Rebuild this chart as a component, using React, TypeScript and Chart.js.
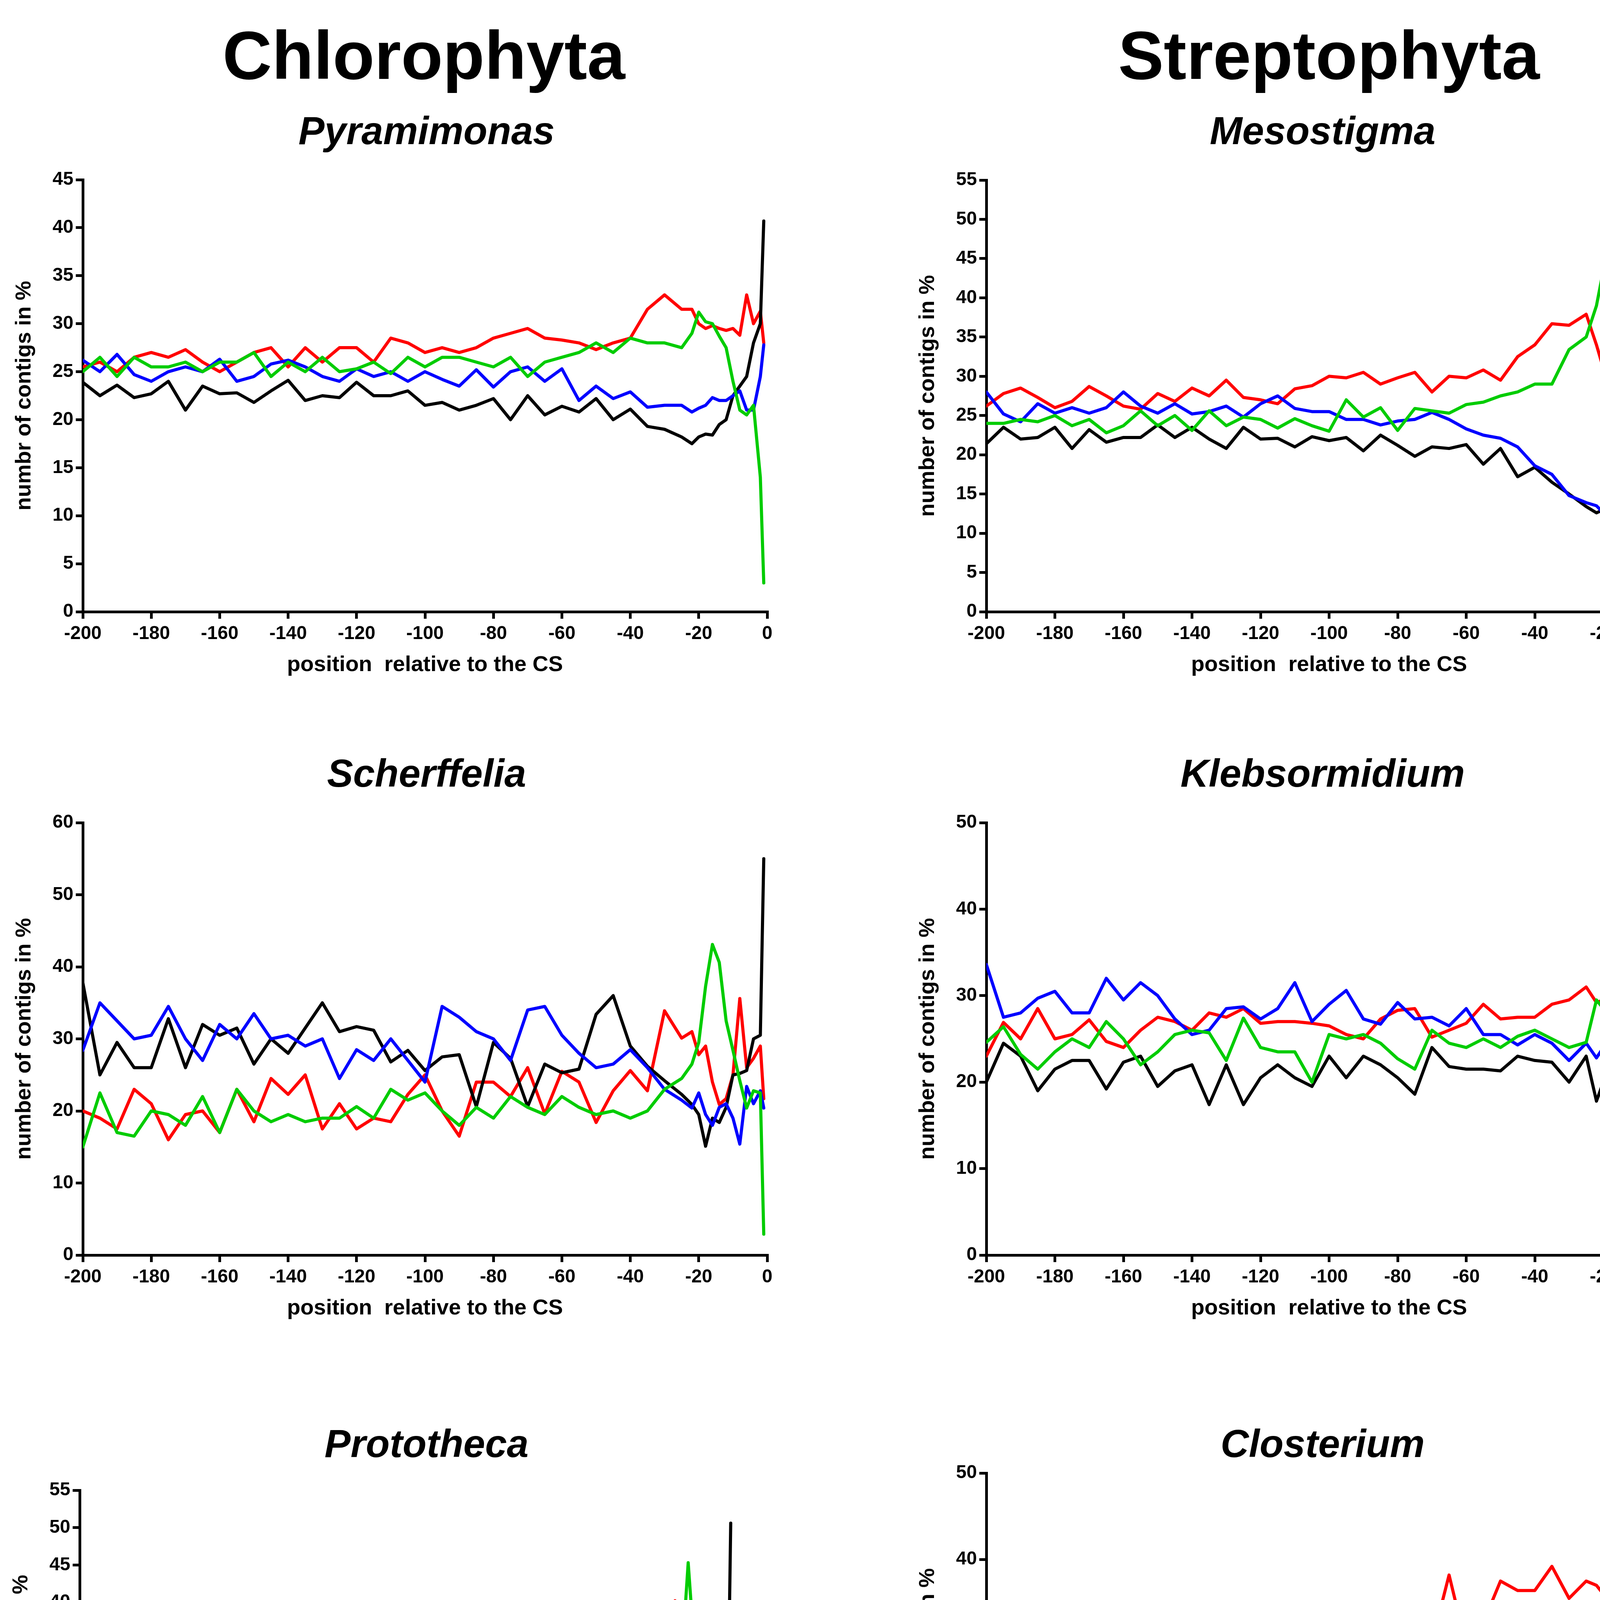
import { useEffect, useRef } from 'react'
import Chart from 'chart.js/auto'

// positions relative to the cleavage site (CS)
const positions = [
  -200, -195, -190, -185, -180, -175, -170, -165, -160, -155, -150, -145,
  -140, -135, -130, -125, -120, -115, -110, -105, -100, -95, -90, -85,
  -80, -75, -70, -65, -60, -55, -50, -45, -40, -35, -30, -25,
  -22, -20, -18, -16, -14, -12, -10, -8, -6, -4, -2, -1,
]

const xTicks = [-200, -180, -160, -140, -120, -100, -80, -60, -40, -20, 0]

// ---- Pyramimonas
const pyramimonasA = [
  25, 26.5, 24.5, 26.5, 25.5, 25.5, 26, 25, 26, 26, 27, 24.5,
  26, 25, 26.5, 25, 25.3, 26, 24.8, 26.5, 25.5, 26.5, 26.5, 26,
  25.5, 26.5, 24.5, 26, 26.5, 27, 28, 27, 28.5, 28, 28, 27.5,
  29, 31.2, 30.2, 30, 28.7, 27.5, 24, 21, 20.5, 21.5, 14, 3,
]
const pyramimonasG = [
  26.2, 25, 26.8, 24.7, 24, 25, 25.5, 25, 26.3, 24, 24.5, 25.8,
  26.2, 25.5, 24.5, 24, 25.3, 24.5, 25, 24, 25, 24.2, 23.5, 25.2,
  23.4, 25, 25.5, 24, 25.3, 22, 23.5, 22.2, 22.9, 21.3, 21.5, 21.5,
  20.8, 21.2, 21.5, 22.3, 22, 22, 22.5, 23, 21, 21, 24.5, 27.8,
]
const pyramimonasC = [
  23.9, 22.5, 23.6, 22.3, 22.7, 24, 21, 23.5, 22.7, 22.8, 21.8, 23,
  24.1, 22, 22.5, 22.3, 23.9, 22.5, 22.5, 23, 21.5, 21.8, 21, 21.5,
  22.2, 20, 22.5, 20.5, 21.4, 20.8, 22.2, 20, 21.1, 19.3, 19, 18.2,
  17.5, 18.2, 18.5, 18.4, 19.5, 20, 22.5, 23.5, 24.5, 28, 30, 40.7,
]
const pyramimonasU = [
  25.5, 26, 25, 26.5, 27, 26.5, 27.3, 26, 25, 26, 27, 27.5,
  25.5, 27.5, 26, 27.5, 27.5, 26, 28.5, 28, 27, 27.5, 27, 27.5,
  28.5, 29, 29.5, 28.5, 28.3, 28, 27.3, 28, 28.5, 31.5, 33, 31.5,
  31.5, 30, 29.5, 29.8, 29.5, 29.3, 29.5, 28.8, 33, 30, 31.3, 28,
]

// ---- Mesostigma
const mesostigmaA = [
  24, 24, 24.5, 24.2, 25, 23.7, 24.5, 22.8, 23.7, 25.6, 23.7, 25,
  23.1, 25.6, 23.7, 24.8, 24.5, 23.4, 24.6, 23.7, 23, 27, 24.8, 26,
  23.1, 25.9, 25.6, 25.3, 26.4, 26.7, 27.5, 28, 29, 29, 33.4, 35,
  39, 43.5, 44.3, 42, 39, 35.5, 29.5, 20, 22.5, 24.5, 15, 4.6,
]
const mesostigmaG = [
  28, 25.2, 24.2, 26.5, 25.3, 26, 25.3, 26, 28, 26.2, 25.3, 26.5,
  25.2, 25.5, 26.2, 24.8, 26.5, 27.5, 25.9, 25.5, 25.5, 24.5, 24.5, 23.8,
  24.3, 24.5, 25.4, 24.5, 23.3, 22.5, 22.1, 21, 18.6, 17.5, 14.8, 13.9,
  13.5, 12.6, 14, 16.5, 18, 18.4, 18, 17.5, 17.2, 18.4, 19.3, 19.6,
]
const mesostigmaC = [
  21.4, 23.5, 22, 22.2, 23.5, 20.8, 23.2, 21.6, 22.2, 22.2, 23.8, 22.2,
  23.5, 22, 20.8, 23.5, 22, 22.1, 21, 22.3, 21.8, 22.2, 20.5, 22.5,
  21.2, 19.8, 21, 20.8, 21.3, 18.8, 20.8, 17.2, 18.4, 16.5, 15, 13.4,
  12.6, 13, 15.5, 17, 18.1, 19.3, 19.5, 15.5, 19, 23, 24.5, 49.3,
]
const mesostigmaU = [
  26.2, 27.8, 28.5, 27.3, 26, 26.8, 28.7, 27.5, 26.2, 25.8, 27.8, 26.8,
  28.5, 27.5, 29.5, 27.3, 27, 26.5, 28.4, 28.8, 30, 29.8, 30.5, 29,
  29.8, 30.5, 28, 30, 29.8, 30.8, 29.5, 32.5, 34, 36.7, 36.5, 37.9,
  34, 31, 28, 24.2, 24.5, 29, 34, 46.8, 45, 34.5, 31, 26.2,
]

// ---- Scherffelia
const scherffeliaA = [
  15, 22.5, 17, 16.5, 20, 19.5, 18, 22, 17, 23, 20, 18.5,
  19.5, 18.5, 19, 19, 20.6, 19, 23, 21.5, 22.5, 20, 18, 20.5,
  19, 22, 20.5, 19.5, 22, 20.5, 19.5, 20, 19, 20, 23, 24.5,
  26.5, 29.5, 37.3, 43.1, 40.6, 32.5, 28.4, 24.2, 20.4, 22.8, 22.5, 2.9,
]
const scherffeliaG = [
  28.4, 35, 32.5, 30, 30.5, 34.5, 30, 27, 32, 30, 33.5, 30,
  30.5, 29, 30, 24.5, 28.5, 27, 30, 27, 24, 34.5, 33, 31,
  30, 27, 34, 34.5, 30.5, 28, 26, 26.5, 28.5, 26, 23, 21.5,
  20.4, 22.5, 19.5, 18, 20.5, 21, 19, 15.4, 23.4, 21, 22.8, 20.4,
]
const scherffeliaC = [
  37.8, 25, 29.5, 26, 26, 32.8, 26, 32, 30.5, 31.5, 26.5, 30,
  28, 31.5, 35, 31, 31.7, 31.2, 26.8, 28.4, 25.6, 27.5, 27.8, 20.6,
  29.5, 27.3, 20.6, 26.5, 25.3, 25.8, 33.4, 36, 29, 26.2, 24.2, 22.3,
  20.9, 19.5, 15.1, 19, 18.4, 20.5, 25, 25.2, 25.6, 30, 30.5, 55,
]
const scherffeliaU = [
  20, 19, 17.5, 23, 21, 16, 19.5, 20, 17, 23, 18.5, 24.5,
  22.3, 25, 17.5, 21, 17.5, 19, 18.5, 22.3, 25, 20, 16.5, 24,
  24, 22, 26, 19.6, 25.5, 24, 18.4, 22.8, 25.6, 22.8, 33.9, 30.1,
  31, 27.8, 29, 24, 20.9, 21.7, 25, 35.6, 26, 27.3, 29, 21.7,
]

// ---- Klebsormidium
const klebsormidiumA = [
  24.6, 26.4, 23.2, 21.5, 23.5, 25, 24, 27, 25, 22, 23.5, 25.5,
  26, 25.7, 22.5, 27.4, 24, 23.5, 23.5, 20, 25.5, 25, 25.5, 24.5,
  22.7, 21.5, 26, 24.5, 24, 25, 24, 25.3, 26, 25, 24, 24.6,
  29.5, 28.5, 29.7, 28.5, 27.4, 24, 17.4, 15.1, 19.3, 19.7, 18, 3.2,
]
const klebsormidiumG = [
  33.6, 27.5, 28, 29.7, 30.5, 28, 28, 32, 29.5, 31.5, 30, 27.3,
  25.5, 26, 28.5, 28.7, 27.3, 28.5, 31.5, 27, 29, 30.6, 27.3, 26.7,
  29.2, 27.3, 27.5, 26.5, 28.5, 25.5, 25.5, 24.3, 25.5, 24.5, 22.5, 24.5,
  22.8, 24, 24.1, 25, 26.8, 25.8, 24.4, 21.4, 22.5, 19.7, 23.5, 27.4,
]
const klebsormidiumC = [
  20, 24.5, 23, 19, 21.5, 22.5, 22.5, 19.2, 22.3, 23, 19.5, 21.3,
  22, 17.4, 22, 17.4, 20.5, 22, 20.5, 19.5, 23, 20.5, 23, 22,
  20.5, 18.6, 24, 21.8, 21.5, 21.5, 21.3, 23, 22.5, 22.3, 20, 23,
  17.8, 20, 19.5, 18, 21, 21, 19.3, 20, 24, 31, 25, 36.4,
]
const klebsormidiumU = [
  23, 26.9, 25, 28.5, 25, 25.5, 27.2, 24.7, 24, 26, 27.5, 27,
  26, 28, 27.5, 28.5, 26.8, 27, 27, 26.8, 26.5, 25.5, 25, 27.3,
  28.3, 28.5, 25.2, 26, 26.8, 29, 27.3, 27.5, 27.5, 29, 29.5, 31,
  29.2, 29.5, 29.2, 28.5, 27.8, 31, 38, 44.7, 32, 27, 36, 33,
]

// ---- Prototheca
const protothecaA = [
  20.7, 19.5, 20.5, 18.6, 21.3, 18, 16.8, 20, 19.5, 18.5, 21.5, 17,
  18, 19, 18, 21.5, 19, 21.5, 18, 20, 17, 20, 19.4, 17.5,
  20.4, 16.2, 18.6, 20.2, 15.5, 18, 14, 16.4, 18.8, 16.4, 15, 18.6,
  15.9, 14, 18, 32, 45.3, 33, 28.5, 26, 23.5, 21.5, 14, 7.6,
]
const protothecaG = [
  31.9, 33, 31.5, 31.5, 33, 30, 33.5, 28.5, 30.5, 31.5, 28, 31.5,
  34.8, 31.5, 30, 29.5, 26.5, 32.5, 29, 30.5, 32, 27.5, 30, 29.5,
  31.5, 30.3, 28.5, 27.5, 26.6, 23.5, 25.5, 24, 27.5, 24.5, 23.5, 25,
  24.8, 30.6, 28, 27.5, 18.6, 22.3, 22.5, 22.8, 22.8, 26, 28, 20.2,
]
const protothecaC = [
  32.2, 31, 35.5, 34.3, 28, 31.9, 32, 33.5, 31, 33.2, 33, 33,
  28.7, 34.6, 32, 34.5, 36.7, 34.5, 32.5, 33, 30.5, 35.7, 30, 31.5,
  27.5, 31, 31.2, 32.5, 35, 35.4, 33.5, 34, 37, 35, 32, 30.5,
  29, 21, 12.7, 10.8, 14.5, 23, 31.9, 30.9, 29.5, 30.5, 20, 50.6,
]
const protothecaU = [
  15.9, 17, 15, 15, 19.6, 17.8, 18.6, 17, 20.2, 17, 17.5, 19.4,
  18.8, 16.2, 17.5, 17.5, 15.5, 12.7, 21, 18.3, 19.5, 16.8, 19.1, 21.3,
  21, 24.5, 20.2, 25, 22.3, 21.5, 25.5, 26, 20.7, 27.1, 27.4, 28.7,
  31, 34, 40.2, 36, 21, 18, 17, 22.3, 24, 21, 24, 21.3,
]

// ---- Closterium
const closteriumA = [
  22.7, 23, 21.5, 24.5, 24, 20.5, 23, 22.7, 24, 24, 22, 18.5,
  22, 25, 20.2, 22, 21.6, 24.5, 21.5, 22, 24.4, 29, 17.9, 19,
  22, 22, 24, 26.5, 25, 25, 22.5, 23.4, 26.5, 23, 27.5, 26,
  29.5, 33, 33, 37.5, 35, 33, 27, 23.5, 24.5, 23, 15, 2.6,
]
const closteriumG = [
  33.6, 31, 32.2, 31, 30.8, 33, 27.5, 29.5, 29.5, 31, 26, 32.5,
  30.5, 24.4, 31.3, 28.5, 27.5, 30, 27.5, 31, 24.4, 26.5, 29, 26,
  29, 24.5, 26.7, 28, 27, 23, 24.5, 21.8, 22, 24, 19.3, 22.5,
  17, 23, 22, 23.5, 22.5, 18, 17.5, 19.7, 19.7, 16.5, 20.7, 23.9,
]
const closteriumC = [
  25.5, 24, 26.7, 22, 24.5, 25.5, 28, 25.7, 23.9, 21.1, 25, 23.4,
  26, 30.4, 23.9, 22, 21.6, 24.4, 23.4, 22.5, 24.4, 22, 20.2, 24.4,
  20.7, 21, 18, 18.8, 24.4, 17.4, 20.7, 15.1, 15, 17.4, 16.8, 19,
  14, 9.5, 12.8, 12.5, 19.5, 21, 20.2, 19.7, 19, 20.4, 20.7, 37.1,
]
const closteriumU = [
  20, 22.5, 22.5, 25.3, 26.2, 23.9, 19.7, 25.7, 23, 25.7, 25.5, 28,
  24, 20.5, 23.4, 25, 29.5, 23.4, 30, 28, 26.5, 27.5, 33.5, 31.5,
  29.9, 28.5, 30.4, 38.2, 30, 32.7, 37.5, 36.4, 36.4, 39.2, 35.5, 37.5,
  37, 36, 33.5, 27, 26, 28, 38, 41, 39, 40.5, 41, 36,
]

// ---- Chlamydomonas
const chlamydomonasA = [
  20.2, 20, 20.2, 19.8, 20.1, 20.4, 20.2, 20, 20.2, 20.5, 20.3, 20.3,
  20.9, 21.4, 21.3, 20.4, 20.3, 20.6, 20.3, 20.3, 20, 19.9, 19.9, 19.6,
  19.7, 20.5, 20.1, 19.6, 20, 20.6, 20.2, 20, 20.4, 20.3, 20.6, 20.9,
  21.6, 19, 17, 33, 46.5, 31.6, 22.3, 21.5, 20, 17, 12, 4.3,
]
const chlamydomonasG = [
  32.5, 32, 32.7, 32.5, 32.5, 32, 33, 33.9, 32.8, 33, 32.5, 32.5,
  33, 32.5, 32.5, 33, 32.5, 32.5, 32.5, 33, 33, 32.6, 32.6, 32.8,
  33, 32, 32, 32, 31.8, 31.2, 31.4, 30.3, 30.8, 29.5, 28.8, 27,
  26, 25, 27.4, 21, 16, 19.5, 21.9, 23.5, 26.5, 26.7, 22.8, 36.4,
]
const chlamydomonasC = [
  23.9, 23.7, 23.2, 23.7, 23.5, 24.2, 23.5, 23.2, 24.2, 23.7, 23.7, 23.9,
  23, 23.2, 23.6, 24.3, 23.9, 24.4, 24.6, 24.4, 24.3, 25.5, 25.5, 26,
  25.5, 25.8, 26, 26.7, 26.5, 26.5, 26.7, 27.8, 27.4, 28, 28.6, 29.3,
  29, 24.6, 15.5, 10.7, 16.5, 27.9, 29.7, 28.8, 28.5, 31, 31, 30.9,
]
const chlamydomonasU = [
  23.5, 24.2, 24, 24, 23.8, 23.8, 23.7, 23.7, 23.2, 23.2, 23.9, 23.5,
  23, 23, 23.3, 22.8, 23, 22.8, 22.8, 22.6, 22.8, 22.3, 22.2, 22,
  21.9, 21.8, 21.9, 22.3, 21.9, 21.9, 22.1, 21.9, 22, 21.9, 22.8, 23.2,
  24, 32, 41, 37, 27, 20, 24.5, 24.2, 24.2, 25, 29.5, 28.3,
]

// ---- Coleochaete
const coleochaeteA = [
  21.5, 28, 26, 31.8, 26, 26.5, 25, 23, 23, 29.6, 25.5, 27,
  26, 26.5, 21, 22.5, 27.6, 21.5, 22, 25, 21.5, 25, 24.5, 28,
  24, 22, 30, 21.8, 26, 28.1, 27, 28, 28.1, 27.5, 21.5, 28.6,
  34, 33.5, 34, 34.3, 31.5, 27.5, 21.5, 19.5, 18.9, 17.2, 9, 1.9,
]
const coleochaeteG = [
  28.6, 23, 26, 24.5, 20.4, 25.5, 23.5, 25.5, 24.5, 24.5, 20.5, 23.5,
  21.5, 26, 26.5, 24.5, 23.5, 25.5, 23.5, 25.5, 20.4, 25, 22.5, 23,
  24, 24, 22.5, 26.5, 23.5, 22.5, 21.5, 21, 21.5, 20.4, 16.4, 20,
  14.5, 18.4, 20.4, 21.5, 22.8, 23.5, 24, 21.5, 20.4, 17.5, 19.5, 27.6,
]
const coleochaeteC = [
  16.9, 14, 23, 16.4, 19.9, 21.5, 17.9, 21.5, 22.5, 19.9, 18.9, 22.5,
  19.3, 23.5, 17.9, 18.4, 20.9, 20.9, 19.9, 17.9, 21.5, 21.5, 22.5, 17.4,
  20.9, 18.9, 16.9, 17.4, 21, 22.5, 23.5, 23, 20.4, 21.2, 25, 13.5,
  13.3, 13.3, 16.4, 18.4, 16.9, 12.8, 14.3, 16.4, 22, 23, 17.4, 33.1,
]
const coleochaeteU = [
  32, 34.7, 26.5, 29.5, 31.6, 32, 28.5, 32.6, 31.5, 34.7, 30.6, 31,
  29.5, 34.2, 31, 28.6, 33, 31.6, 29.8, 36, 32.6, 31, 31.5, 34.7,
  29, 36, 31, 37.2, 31.8, 27, 31, 30, 32.6, 34.2, 38, 35,
  35.7, 33, 28.6, 30.5, 33.6, 38.7, 42, 45, 40, 45.5, 42, 37.2,
]

const FONT = "'Liberation Sans', Arial, Helvetica, sans-serif"
const GREEN = '#00cc00'
const BLUE = '#0000ff'
const BLACK = '#000000'
const RED = '#ff0000'

const Y_AXIS_W = 183
const X_AXIS_H = 170
const PAD_TOP = 40
const PAD_RIGHT = 40

type Panel = {
  name: string
  yTitle: string
  yMax: number
  yStep: number
  a: number[]
  g: number[]
  c: number[]
  u: number[]
  // plot area, page pixels
  left: number
  right: number
  top: number
  bottom: number
  titleX: number
  titleBase: number
}

const YT = 'number of contigs in %'

const panels: Panel[] = [
  { name: 'Pyramimonas', yTitle: 'numbr of contigs in %', yMax: 45, yStep: 5,
    a: pyramimonasA, g: pyramimonasG, c: pyramimonasC, u: pyramimonasU,
    left: 212, right: 1964, top: 460, bottom: 1566, titleX: 1092, titleBase: 369 },
  { name: 'Mesostigma', yTitle: YT, yMax: 55, yStep: 5,
    a: mesostigmaA, g: mesostigmaG, c: mesostigmaC, u: mesostigmaU,
    left: 2525, right: 4280, top: 461, bottom: 1566, titleX: 3386, titleBase: 369 },
  { name: 'Scherffelia', yTitle: YT, yMax: 60, yStep: 10,
    a: scherffeliaA, g: scherffeliaG, c: scherffeliaC, u: scherffeliaU,
    left: 212, right: 1964, top: 2106, bottom: 3213, titleX: 1092, titleBase: 2014 },
  { name: 'Klebsormidium', yTitle: YT, yMax: 50, yStep: 10,
    a: klebsormidiumA, g: klebsormidiumG, c: klebsormidiumC, u: klebsormidiumU,
    left: 2525, right: 4280, top: 2106, bottom: 3213, titleX: 3386, titleBase: 2014 },
  { name: 'Prototheca', yTitle: YT, yMax: 55, yStep: 5,
    a: protothecaA, g: protothecaG, c: protothecaC, u: protothecaU,
    left: 204, right: 1879, top: 3815, bottom: 4867, titleX: 1092, titleBase: 3730 },
  { name: 'Closterium', yTitle: YT, yMax: 50, yStep: 10,
    a: closteriumA, g: closteriumG, c: closteriumC, u: closteriumU,
    left: 2525, right: 4280, top: 3771, bottom: 4877, titleX: 3386, titleBase: 3730 },
  { name: 'Chlamydomonas', yTitle: YT, yMax: 50, yStep: 10,
    a: chlamydomonasA, g: chlamydomonasG, c: chlamydomonasC, u: chlamydomonasU,
    left: 212, right: 1964, top: 5397, bottom: 6501, titleX: 1092, titleBase: 5303 },
  { name: 'Coleochaete', yTitle: YT, yMax: 55, yStep: 5,
    a: coleochaeteA, g: coleochaeteG, c: coleochaeteC, u: coleochaeteU,
    left: 2525, right: 4280, top: 5395, bottom: 6501, titleX: 3386, titleBase: 5303 },
]

const legendItems = [
  { label: 'A', color: GREEN, lineX: 2869, textX: 3020 },
  { label: 'G', color: BLUE, lineX: 3228, textX: 3372 },
  { label: 'C', color: BLACK, lineX: 3582, textX: 3728 },
  { label: 'U', color: RED, lineX: 3939, textX: 4082 },
]

function Text(props: { text: string; cx?: number; x?: number; baseline: number; size: number; italic?: boolean; color?: string }) {
  const { text, cx, x, baseline, size, italic, color } = props
  const top = baseline - size * 0.8465
  const style: React.CSSProperties = {
    position: 'absolute',
    top,
    fontFamily: FONT,
    fontWeight: 'bold',
    fontStyle: italic ? 'italic' : 'normal',
    fontSize: size,
    lineHeight: `${size}px`,
    color: color || '#000',
    whiteSpace: 'nowrap',
  }
  if (cx !== undefined) {
    style.left = cx - 1500
    style.width = 3000
    style.textAlign = 'center'
  } else {
    style.left = x
  }
  return <div style={style}>{text}</div>
}

function PanelChart({ p }: { p: Panel }) {
  const canvasRef = useRef<HTMLCanvasElement>(null)
  const w = p.right - p.left + Y_AXIS_W + PAD_RIGHT
  const h = p.bottom - p.top + PAD_TOP + X_AXIS_H

  useEffect(() => {
    if (!canvasRef.current) return
    const series = [
      { label: 'A', values: p.a, color: GREEN },
      { label: 'G', values: p.g, color: BLUE },
      { label: 'C', values: p.c, color: BLACK },
      { label: 'U', values: p.u, color: RED },
    ]
    const tickFont = { family: FONT, size: 48, weight: 'bold' as const }
    const titleFont = { family: FONT, size: 56, weight: 'bold' as const }
    const grid = {
      drawOnChartArea: false,
      drawTicks: true,
      tickLength: 18,
      tickWidth: 7,
      tickColor: '#000',
      color: '#000',
      lineWidth: 7,
    }
    const border = { display: true, color: '#000', width: 7 }

    const chart = new Chart(canvasRef.current, {
      type: 'line',
      data: {
        datasets: series.map((s) => ({
          label: s.label,
          data: positions.map((x, i) => ({ x, y: s.values[i] })),
          borderColor: s.color,
          backgroundColor: s.color,
          borderWidth: 8,
          borderJoinStyle: 'round' as const,
          borderCapStyle: 'round' as const,
          pointRadius: 0,
          tension: 0,
          fill: false,
        })),
      },
      options: {
        responsive: false,
        animation: false,
        devicePixelRatio: 1,
        layout: { padding: { top: PAD_TOP, right: PAD_RIGHT, bottom: 0, left: 0 } },
        plugins: {
          legend: { display: false },
          tooltip: { enabled: false },
        },
        scales: {
          x: {
            type: 'linear',
            min: -200,
            max: 0,
            afterBuildTicks: (scale) => {
              scale.ticks = xTicks.map((v) => ({ value: v }))
            },
            afterFit: (scale) => {
              scale.height = X_AXIS_H
            },
            ticks: { font: tickFont, color: '#000', padding: 10, autoSkip: false, maxRotation: 0 },
            grid,
            border,
            title: {
              display: true,
              text: 'position  relative to the CS',
              font: titleFont,
              color: '#000',
              padding: 0,
            },
          },
          y: {
            type: 'linear',
            min: 0,
            max: p.yMax,
            afterFit: (scale) => {
              scale.width = Y_AXIS_W
            },
            ticks: { stepSize: p.yStep, font: tickFont, color: '#000', padding: 6, autoSkip: false },
            grid,
            border,
            title: {
              display: true,
              text: p.yTitle,
              font: titleFont,
              color: '#000',
              padding: 0,
            },
          },
        },
      },
    })
    return () => chart.destroy()
  }, [p])

  return (
    <canvas
      ref={canvasRef}
      width={w}
      height={h}
      style={{ position: 'absolute', left: p.left - Y_AXIS_W, top: p.top - PAD_TOP, width: w, height: h }}
    />
  )
}

export default function App() {
  return (
    <div
      style={{
        position: 'absolute',
        left: 0,
        top: 0,
        width: 4380,
        height: 6973,
        background: '#fff',
        overflow: 'hidden',
      }}
    >
      <Text text="Chlorophyta" cx={1085} baseline={202} size={175} />
      <Text text="Streptophyta" cx={3402} baseline={202} size={175} />

      {panels.map((p) => (
        <div key={p.name}>
          <Text text={p.name} cx={p.titleX} baseline={p.titleBase} size={100} italic />
          <PanelChart p={p} />
        </div>
      ))}

      {legendItems.map((item) => (
        <div key={item.label}>
          <div
            style={{
              position: 'absolute',
              left: item.lineX,
              top: 6857,
              width: 115,
              height: 14,
              background: item.color,
            }}
          />
          <Text text={item.label} x={item.textX} baseline={6880} size={118} color={item.color} />
        </div>
      ))}
    </div>
  )
}
